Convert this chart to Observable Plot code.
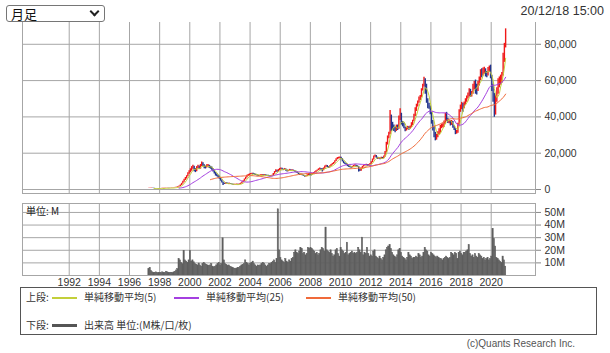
<!DOCTYPE html>
<html><head><meta charset="utf-8">
<script src="https://cdn.jsdelivr.net/npm/d3@7"></script>
<script src="https://cdn.jsdelivr.net/npm/@observablehq/plot@0.6"></script>
<style>
html,body{margin:0;padding:0;background:#fff;}
#wrap{position:relative;width:610px;height:353px;overflow:hidden;font-family:"Liberation Sans",Arial,"Noto Sans CJK JP",sans-serif;color:#333;}
.abs{position:absolute;}
#sel{left:6px;top:5px;width:99px;height:17px;box-sizing:border-box;border:1px solid #767676;border-radius:3px;background:#fff;font-size:13px;line-height:15px;font-family:"Noto Sans CJK JP",sans-serif;color:#111;padding-left:4px;}
#chev{position:absolute;right:6px;top:2px;width:5px;height:5px;border-right:2px solid #222;border-bottom:2px solid #222;transform:rotate(45deg);}
#ts{right:6px;top:4px;font-size:12.5px;color:#333;}
#unit{left:26px;top:203px;font-size:10px;font-family:"Noto Sans CJK JP",sans-serif;color:#222;}
#legend{left:20px;top:287px;width:577px;height:48px;border:1px solid #555;box-sizing:border-box;font-family:"Noto Sans CJK JP",sans-serif;font-size:10px;color:#333;}
#legend span{position:absolute;white-space:nowrap;line-height:12px;}
#legend i{position:absolute;display:block;}
#copy{right:35px;top:338px;font-size:10px;color:#555;}
</style></head><body>
<div id="wrap">
  <div id="price" class="abs" style="left:0;top:0"></div>
  <div id="vol" class="abs" style="left:0;top:195px"></div>
  <div id="sel" class="abs"><span id="selText"></span><div id="chev"></div></div>
  <div id="ts" class="abs"></div>
  <div id="unit" class="abs"></div>
  <div id="legend" class="abs"></div>
  <div id="copy" class="abs"></div>
</div>
<script>
// ---- data (monthly, Apr 1997 - Dec 2020) ----
const startYear = 1997, startMonth = 3; // 0-based month (April)
// monthly close, thousands of yen
const close = [
 0.55,0.6,0.65,0.6,0.55,0.5,0.5,0.45,0.5,
 0.55,0.6,0.6,0.65,0.7,0.75,0.8,0.7,0.75,0.85,0.95,1.05,
 1.1,1.2,1.4,1.7,2.3,3.1,4.2,5.2,6.0,7.2,8.6,9.6,
 10.5,11.8,12.4,10.8,10.2,11.8,12.6,11.6,13.0,14.2,13.2,12.2,
 12.1,12.8,13.2,12.4,12.0,11.2,10.1,9.0,8.2,7.6,7.0,6.2,
 5.0,4.0,3.3,3.0,3.5,3.2,3.0,3.2,3.0,2.8,2.6,2.7,
 2.7,2.8,2.7,2.9,3.3,3.9,4.6,5.5,6.5,7.4,7.9,8.3,
 8.5,8.8,8.6,8.2,8.0,7.8,7.5,7.6,7.8,8.0,7.7,7.9,
 7.8,7.6,7.5,7.3,7.4,7.6,8.5,9.5,10.5,9.8,10.6,11.2,
 11.5,11.0,10.8,11.2,10.5,10.0,10.3,10.8,10.5,10.6,10.2,10.0,
 9.5,9.0,8.5,8.0,8.2,7.8,7.5,7.0,7.3,7.8,8.5,8.2,
 8.0,8.5,9.0,9.5,10.0,10.5,11.0,11.5,11.0,10.5,11.5,12.5,
 13.0,12.5,12.0,12.8,13.5,14.0,14.5,15.5,16.5,17.0,17.4,17.6,
 16.8,15.5,14.5,14.0,13.8,13.0,12.5,12.3,12.0,12.5,13.0,13.2,
 12.8,12.5,11.0,10.2,11.5,12.5,13.0,13.5,13.5,13.0,13.5,14.0,
 15.0,16.5,18.0,18.5,17.5,17.0,17.2,16.8,17.5,17.0,18.0,20.5,
 25.0,28.5,30.5,37.0,36.0,35.0,33.5,32.5,34.5,33.5,38.5,41.5,
 36.5,36.0,34.5,32.5,33.0,34.0,33.5,34.5,36.0,37.5,40.5,44.0,
 46.0,48.0,50.0,51.0,55.0,57.0,60.0,57.5,49.0,46.5,45.5,42.0,
 37.5,34.5,30.0,28.0,29.0,31.0,31.5,34.5,35.0,35.5,36.5,41.5,
 38.5,37.0,37.5,36.0,37.0,34.5,33.0,31.0,31.5,35.5,43.0,45.5,
 47.0,45.0,47.5,48.5,50.5,52.0,54.5,52.0,53.0,56.5,58.0,57.0,
 55.0,58.5,61.0,64.5,63.5,65.5,66.0,64.0,63.5,66.0,67.0,62.0,
 55.0,52.0,42.0,50.0,54.0,58.0,60.0,60.5,63.0,72.0,79.0,87.0
];
const high = [
 0.65,0.7,0.75,0.7,0.65,0.6,0.55,0.55,0.55,
 0.6,0.65,0.68,0.7,0.75,0.8,0.85,0.82,0.8,0.9,1.0,1.1,
 1.2,1.3,1.5,1.9,2.5,3.4,4.6,5.6,6.6,7.6,9.2,10.4,
 11.4,12.6,13.4,12.8,11.5,12.6,13.3,12.9,13.8,15.1,14.8,13.6,
 12.9,13.6,13.8,13.4,12.8,12.4,11.6,10.4,9.3,8.6,7.9,7.4,
 6.4,5.2,4.2,3.5,3.8,3.7,3.4,3.5,3.3,3.1,2.9,2.9,
 2.9,3.0,2.9,3.1,3.5,4.1,4.8,5.8,6.8,7.8,8.3,8.6,
 8.8,9.0,8.9,8.7,8.4,8.2,7.9,7.9,8.1,8.3,8.1,8.2,
 8.1,7.9,7.8,7.6,7.7,7.9,8.8,9.9,10.9,10.6,11.0,11.6,
 11.9,11.7,11.2,11.6,11.3,10.7,10.6,11.1,10.9,10.9,10.7,10.4,
 10.1,9.6,9.1,8.6,8.5,8.4,7.9,7.6,7.6,8.1,8.8,8.8,
 8.4,8.8,9.3,9.8,10.3,10.8,11.4,11.8,11.6,11.5,11.9,12.9,
 13.4,13.2,12.6,13.1,13.8,14.3,14.9,15.9,16.9,17.6,17.8,17.9,
 17.8,17.0,15.7,14.8,14.3,13.9,13.2,12.8,12.6,12.8,13.3,13.6,
 13.4,13.1,12.7,11.2,11.8,12.8,13.4,13.8,13.9,13.7,13.8,14.3,
 15.3,16.8,18.4,19.0,18.7,17.8,17.6,17.3,17.8,17.7,18.4,21.0,
 26.0,29.5,31.5,43.5,41.0,37.0,35.5,34.5,35.5,35.5,40.5,44.5,
 42.0,37.5,36.5,34.5,34.0,34.8,34.6,35.0,36.8,38.2,41.5,45.0,
 47.0,48.8,50.9,51.8,55.5,58.0,61.9,61.0,58.0,50.0,47.5,46.0,
 42.5,38.0,34.8,31.5,30.5,31.8,33.5,35.3,36.0,36.2,37.8,42.0,
 42.5,39.2,38.2,38.0,38.0,37.5,35.0,33.5,32.6,36.5,44.0,46.5,
 48.0,47.5,48.2,50.0,51.5,53.2,55.5,55.2,54.0,58.0,59.5,60.3,
 58.0,59.5,62.0,66.0,66.5,67.0,67.4,66.5,65.0,67.2,68.0,68.5,
 63.0,58.0,53.0,52.0,56.0,61.0,62.0,63.0,64.5,75.0,80.5,88.5
];
const low = [
 0.5,0.5,0.55,0.55,0.5,0.45,0.45,0.4,0.42,
 0.45,0.5,0.55,0.58,0.62,0.68,0.72,0.66,0.68,0.72,0.82,0.92,
 1.0,1.05,1.15,1.35,1.65,2.2,3.0,4.0,5.0,5.8,7.0,8.4,
 9.2,10.1,11.2,9.8,9.3,9.8,11.4,11.0,11.2,12.7,12.5,11.4,
 11.3,11.8,12.3,11.6,11.2,10.6,9.6,8.6,7.4,7.0,6.4,5.6,
 4.6,3.6,2.2,2.8,2.9,3.0,2.8,2.9,2.8,2.6,2.4,2.5,
 2.5,2.6,2.5,2.6,2.8,3.2,3.8,4.5,5.4,6.4,7.2,7.7,
 8.1,8.3,8.2,7.9,7.7,7.5,7.2,7.3,7.4,7.7,7.4,7.5,
 7.5,7.3,7.2,7.0,7.1,7.3,7.5,8.4,9.4,9.5,9.7,10.4,
 10.9,10.7,10.4,10.7,10.1,9.7,9.8,10.2,10.2,10.3,9.9,9.6,
 9.2,8.8,8.2,7.7,7.8,7.6,7.2,6.8,6.9,7.2,7.6,7.9,
 7.5,7.9,8.4,8.9,9.4,10.0,10.4,10.8,10.6,9.6,10.3,11.2,
 12.3,12.1,11.6,11.8,12.7,13.4,13.8,14.4,15.4,16.4,16.8,17.0,
 16.4,15.2,14.2,13.8,13.4,12.6,12.2,12.0,11.7,11.9,12.4,12.8,
 12.4,12.2,9.6,9.9,10.1,11.3,12.4,12.9,13.1,12.7,12.9,13.4,
 13.9,14.8,16.3,17.8,17.2,16.6,16.7,16.4,16.7,16.8,16.9,17.9,
 20.2,24.5,28.0,30.2,32.0,32.5,32.0,31.2,32.0,32.5,33.2,38.0,
 35.5,34.5,33.5,31.8,32.2,32.9,32.6,33.2,34.2,35.2,37.4,40.2,
 43.0,45.5,47.5,49.0,50.5,54.2,56.4,52.5,47.5,44.5,44.2,41.2,
 36.0,32.2,28.5,26.8,27.2,28.5,30.2,31.0,33.5,34.0,34.3,36.0,
 37.5,36.3,36.2,35.0,35.3,33.8,32.5,30.2,30.5,31.0,35.0,42.5,
 44.0,42.5,44.5,46.5,48.0,49.8,51.0,50.8,51.0,52.5,55.0,52.5,
 52.0,54.0,57.0,60.0,61.5,62.5,63.5,62.0,61.5,62.5,64.5,61.0,
 54.0,48.0,39.8,41.0,48.0,52.5,56.0,57.5,58.5,62.5,70.0,78.0
];
// monthly volume, millions
const volume = [
 5.0,6.0,3.5,2.5,2.0,2.2,2.5,1.8,2.0,
 2.0,1.8,2.5,2.2,1.8,3.0,2.5,2.0,1.8,2.2,2.0,2.5,
 3.0,4.0,5.0,13.0,12.0,10.0,9.0,19.5,12.0,11.0,10.0,12.0,
 19.5,11.0,12.0,10.5,9.0,8.5,8.0,9.5,8.0,7.0,9.0,10.0,
 9.0,8.5,8.0,7.5,8.0,9.0,7.0,6.5,7.0,8.0,9.0,10.0,
 8.0,9.0,29.5,12.0,9.0,8.5,7.5,8.0,7.0,6.5,6.0,5.5,
 5.0,5.5,6.0,6.0,7.0,8.0,8.5,9.0,12.0,10.0,9.0,8.0,
 9.0,10.0,11.0,9.0,8.0,7.0,8.0,7.5,8.0,9.0,10.0,9.5,
 8.0,7.0,8.0,9.0,9.0,10.0,11.0,12.0,10.0,13.0,52.5,20.0,
 14.0,12.0,11.0,10.0,13.0,11.0,10.0,12.0,11.0,13.0,14.0,18.0,
 20.0,18.0,17.0,19.0,22.0,21.0,17.0,18.0,16.0,17.0,22.0,21.0,
 22.0,21.0,20.0,19.0,17.0,18.0,16.0,17.0,20.0,22.0,21.0,19.0,
 38.0,20.0,19.0,18.0,20.0,17.0,15.0,16.0,20.0,21.0,17.0,15.0,
 22.0,20.0,19.0,17.0,18.0,26.0,16.0,17.0,18.0,19.0,17.0,18.0,
 17.0,18.0,22.0,20.0,18.0,30.0,16.0,18.0,17.0,22.0,17.0,15.0,
 16.0,15.0,19.0,20.0,15.0,14.0,13.0,15.0,13.0,12.0,14.0,16.0,
 20.0,22.0,23.0,24.0,21.0,18.0,16.0,15.0,14.0,16.0,20.0,21.0,
 18.0,15.0,14.0,13.0,12.0,14.0,18.0,16.0,15.0,13.0,14.0,14.0,
 15.0,14.0,17.0,16.0,14.0,15.0,18.0,22.0,20.0,19.0,16.0,15.0,
 18.0,17.0,16.0,15.0,14.0,15.0,14.0,13.0,13.0,12.0,13.0,14.0,
 15.0,14.0,13.0,14.0,18.0,17.0,16.0,18.0,17.0,13.0,18.0,19.0,
 17.0,16.0,18.0,18.0,19.0,20.0,24.0,17.0,15.0,16.0,14.0,17.0,
 15.0,14.0,17.0,16.0,15.0,13.0,14.0,12.0,13.0,14.0,12.0,13.0,
 15.0,37.0,29.0,23.0,14.0,13.0,12.0,11.0,10.0,15.0,12.0,7.0
];
const yearTicks = [1992,1994,1996,1998,2000,2002,2004,2006,2008,2010,2012,2014,2016,2018,2020];
const priceTicks = [0,20000,40000,60000,80000];
const volTicks = [10,20,30,40,50];
const maPeriods = [5,25,50];
const maLabels = ["単純移動平均(5)","単純移動平均(25)","単純移動平均(50)"];
const maColors = ["#c3cf3a","#a43fe0","#f06a3a"];
const upColor = "#f01818", downColor = "#22348e", volColor = "#5f5f5f";
const gridColor = "#a6a6a6";

// ---- table ----
const rows = close.map((c, i) => {
  const mi = startMonth + i;
  const t = startYear + Math.floor(mi / 12) + (mi % 12) / 12;
  const open = i > 0 ? close[i - 1] : c;
  const r = {t, tc: t + 1/24, t2: t + 1/12, open: open*1000, close: c*1000, high: high[i]*1000, low: low[i]*1000, vol: volume[i]};
  maPeriods.forEach(p => {
    r["ma"+p] = i >= p - 1 ? d3.mean(close.slice(i - p + 1, i + 1)) * 1000 : undefined;
  });
  return r;
});
const xDomain = [1988.9, 2022.94];
const font = '"Liberation Sans", Arial, sans-serif';

const price = Plot.plot({
  width: 610, height: 200,
  marginLeft: 22, marginRight: 75, marginTop: 22, marginBottom: 7,
  style: {fontFamily: font, fontSize: "10.5px", color: "#333", background: "transparent"},
  x: {domain: xDomain, axis: null},
  y: {domain: [-2200, 92000], axis: null},
  marks: [
    Plot.gridX(yearTicks, {stroke: gridColor, strokeOpacity: 1}),
    Plot.gridY(priceTicks, {stroke: gridColor, strokeOpacity: 1}),
    Plot.frame({stroke: gridColor, strokeOpacity: 1, anchor: "left"}),
    Plot.frame({stroke: gridColor, strokeOpacity: 1, anchor: "right"}),
    Plot.frame({stroke: gridColor, strokeOpacity: 1, anchor: "bottom"}),
    Plot.ruleX(rows, {x: "tc", y1: "low", y2: "high", stroke: d => d.close >= d.open ? upColor : downColor, strokeWidth: 1.4}),
    ...maPeriods.map((p, k) => Plot.lineY(rows.filter(d => d["ma"+p] !== undefined), {x: "tc", y: "ma"+p, stroke: maColors[k], strokeWidth: 1})),
    Plot.axisY(priceTicks, {anchor: "right", label: null, tickSize: 5, tickPadding: 4, tickFormat: d3.format(","), stroke: "#888"})
  ]
});
document.getElementById("price").append(price);

const vol = Plot.plot({
  width: 610, height: 100,
  marginLeft: 22, marginRight: 75, marginTop: 8, marginBottom: 20,
  style: {fontFamily: font, fontSize: "10.5px", color: "#333", background: "transparent"},
  x: {domain: xDomain, axis: null},
  y: {domain: [0, 57.1], axis: null},
  marks: [
    Plot.gridX(yearTicks, {stroke: gridColor, strokeOpacity: 1}),
    Plot.gridY(volTicks, {stroke: gridColor, strokeOpacity: 1}),
    Plot.rectY(rows, {x1: "t", x2: "t2", y: "vol", fill: volColor, stroke: volColor, strokeWidth: 0.5, inset: 0}),
    Plot.frame({stroke: gridColor, strokeOpacity: 1}),
    Plot.axisY(volTicks, {anchor: "right", label: null, tickSize: 5, tickPadding: 4, tickFormat: d => d + "M", stroke: "#888"}),
    Plot.axisX(yearTicks, {anchor: "bottom", label: null, tickSize: 0, tickPadding: 3, tickFormat: d => String(d)})
  ]
});
document.getElementById("vol").append(vol);

// ---- texts ----
document.getElementById("selText").textContent = "月足";
document.getElementById("ts").textContent = "20/12/18 15:00";
document.getElementById("unit").textContent = "単位: M";
document.getElementById("copy").textContent = "(c)Quants Research Inc.";
const lg = document.getElementById("legend");
function span(txt, x, y){const s=document.createElement("span");s.textContent=txt;s.style.left=x+"px";s.style.top=y+"px";lg.append(s);}
function swatch(color, x, y, w, h){const s=document.createElement("i");s.style.left=x+"px";s.style.top=y+"px";s.style.width=w+"px";s.style.height=h+"px";s.style.background=color;lg.append(s);}
span("上段:", 5, 3);
const lx = [31, 153, 285];
maLabels.forEach((l, k) => { swatch(maColors[k], lx[k], 9, 25, 1.5); span(l, lx[k] + 32, 3); });
span("下段:", 5, 31);
swatch("#555", 31, 36, 25, 3);
span("出来高 単位:(M株/口/枚)", 63, 31);
</script>
</body></html>
